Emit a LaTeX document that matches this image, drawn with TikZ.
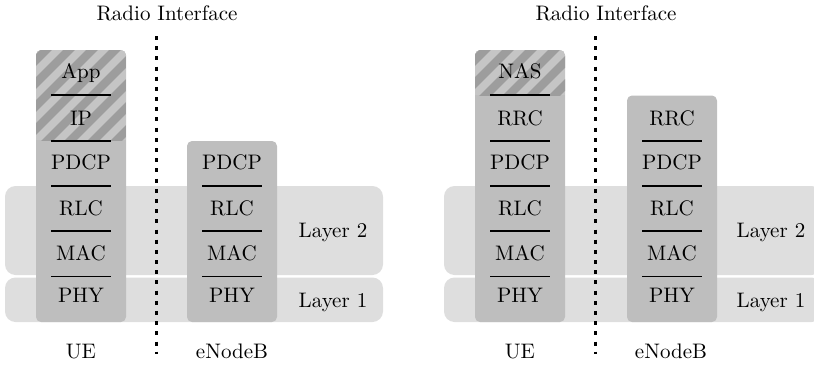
\documentclass[tikz,border=0pt]{standalone}
\definecolor{stackgray}{RGB}{190,190,190}
\definecolor{bandgray}{RGB}{222,222,222}
\definecolor{hatchlight}{RGB}{197,197,197}
\definecolor{hatchdark}{RGB}{157,157,157}
\tikzset{
  band/.style={fill=bandgray, rounded corners=5pt},
  stack/.style={fill=stackgray, rounded corners=2.4pt},
  layertext/.style={anchor=base, inner sep=0pt},
  sep/.style={line width=0.9pt},
  radio/.style={line width=1.3pt, dash pattern=on 1.9pt off 2.95pt},
  stripe/.style={hatchdark, line width=3.9pt},
}
% hatched top part of a stack: #1,#2 = left x, right x; #3,#4 = top y, bottom y
\newcommand{\hatchtop}[4]{%
  \begin{scope}
    \clip[rounded corners=2.4pt] (#1,#3) rectangle (#2,322);
    \clip (#1,#3) rectangle (#2,#4);
    \fill[hatchlight] (#1,#3) rectangle (#2,#4);
    \foreach \k in {-7,...,6}
      \draw[stripe] ({#1-31+23*\k},160) -- ++(140,-140);
  \end{scope}}
\begin{document}
\begin{tikzpicture}[x=0.4762pt,y=-0.4762pt]
\useasboundingbox (0,0) rectangle (814,364);

% ---------------- user plane ----------------
\fill[band] (5,186) rectangle (383,275);
\fill[band] (5,277.5) rectangle (383,322);

\fill[stack] (36,50) rectangle (126,322);
\hatchtop{36}{126}{50}{140}
\fill[stack] (187,141) rectangle (277,322);

\foreach \y in {95,141,186,231,276.5} {
  \draw[sep] (51,\y) -- (111,\y);
}
\foreach \y in {186,231,276.5} {
  \draw[sep] (202,\y) -- (262,\y);
}
\draw[radio] (156.5,36) -- (156.5,354);

\node[layertext] (uApp)  at (81,78)  {App};
\node[layertext] (uIP)   at (81,125) {IP};
\node[layertext] (uPDCP) at (81,169) {PDCP};
\node[layertext] (uRLC)  at (81,215) {RLC};
\node[layertext] (uMAC)  at (81,260) {MAC};
\node[layertext] (uPHY)  at (81,302) {PHY};

\node[layertext] (eUPDCP) at (232,169) {PDCP};
\node[layertext] (eURLC)  at (232,215) {RLC};
\node[layertext] (eUMAC)  at (232,260) {MAC};
\node[layertext] (eUPHY)  at (232,302) {PHY};

\node[layertext] (uLayerTwo) at (333,237) {Layer 2};
\node[layertext] (uLayerOne) at (333,307) {Layer 1};
\node[layertext] (uTitle) at (167,20)  {Radio Interface};
\node[layertext] (uUE)    at (81,358)  {UE};
\node[layertext] (uENB)   at (232,358) {eNodeB};

% ---------------- control plane ----------------
\fill[band] (444,186) rectangle (822,275);
\fill[band] (444,277.5) rectangle (822,322);

\fill[stack] (475,50) rectangle (565,322);
\hatchtop{475}{565}{50}{95}
\fill[stack] (627,95.5) rectangle (717,322);

\foreach \y in {95,141,186,231,276.5} {
  \draw[sep] (490,\y) -- (550,\y);
}
\foreach \y in {141,186,231,276.5} {
  \draw[sep] (642,\y) -- (702,\y);
}
\draw[radio] (595.5,36) -- (595.5,354);

\node[layertext] (cNAS)  at (520,78)  {NAS};
\node[layertext] (cRRC)  at (520,125) {RRC};
\node[layertext] (cPDCP) at (520,169) {PDCP};
\node[layertext] (cRLC)  at (520,215) {RLC};
\node[layertext] (cMAC)  at (520,260) {MAC};
\node[layertext] (cPHY)  at (520,302) {PHY};

\node[layertext] (eCRRC)  at (672,125) {RRC};
\node[layertext] (eCPDCP) at (672,169) {PDCP};
\node[layertext] (eCRLC)  at (672,215) {RLC};
\node[layertext] (eCMAC)  at (672,260) {MAC};
\node[layertext] (eCPHY)  at (672,302) {PHY};

\node[layertext] (cLayerTwo) at (771,237) {Layer 2};
\node[layertext] (cLayerOne) at (771,307) {Layer 1};
\node[layertext] (cTitle) at (606,20)  {Radio Interface};
\node[layertext] (cUE)    at (520,358) {UE};
\node[layertext] (cENB)   at (671,358) {eNodeB};
\end{tikzpicture}
\end{document}
